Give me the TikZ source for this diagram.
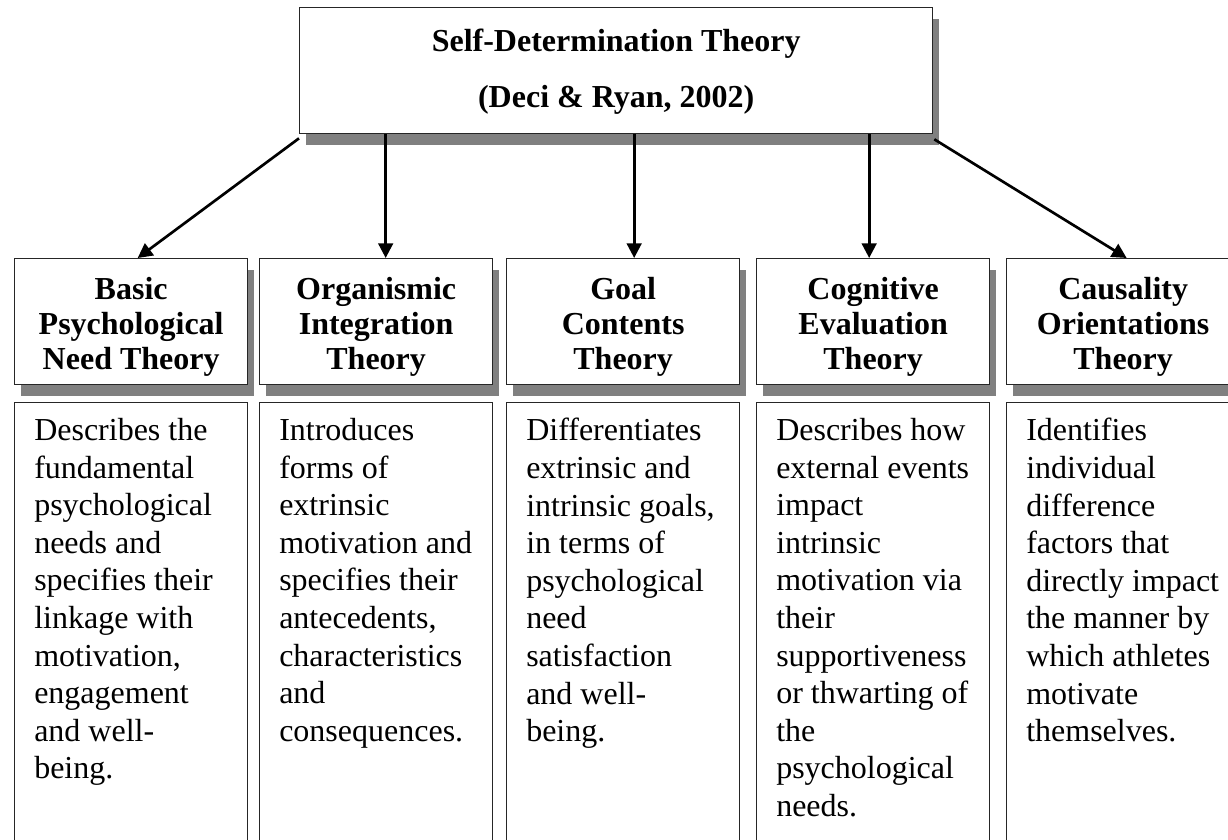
\documentclass[tikz,border=0pt]{standalone}
\usepackage{fontspec}
\setmainfont{Liberation Serif}
\usetikzlibrary{arrows.meta,shadows,calc}

\begin{document}
\begin{tikzpicture}[x=0.75pt, y=-0.75pt,
    titlebox/.style={draw=black!85, line width=1pt, fill=white, anchor=north west, inner sep=0pt,
        minimum width=474.75pt, minimum height=94.5pt,
        drop shadow={shadow xshift=4.5pt, shadow yshift=-8.25pt, fill=black!50, opacity=1}},
    headbox/.style={titlebox, minimum width=174.75pt},
    bodybox/.style={draw=black!85, line width=1pt, fill=white, anchor=north west, inner sep=0pt,
        minimum width=174.75pt, minimum height=345pt},
    headtext/.style={font=\bfseries\fontsize{24}{26}\selectfont, align=center, anchor=north, inner sep=0pt},
    bodytext/.style={font=\fontsize{24}{28.2}\selectfont, align=left, anchor=north west, inner sep=0pt},
    arr/.style={line width=2pt, -{Triangle[length=11pt, width=11pt]}}]
\clip (0,0) rectangle (1228,839);

% Top box
\node[titlebox] (sdt) at (299,7) {};
\node[headtext, font=\bfseries\fontsize{24}{42}\selectfont] (sdt-label) at ($(sdt.north)+(0,21.3)$)
    {Self-Determination Theory\\(Deci \& Ryan, 2002)};

% Mini-theories: heading box and description box
\foreach \n/\x/\t/\b in {
    bpnt/14/{Basic\\Psychological\\Need Theory}/{Describes the\\fundamental\\psychological\\needs and\\specifies their\\linkage with\\motivation,\\engagement\\and well-\\being.},
    oit/259/{Organismic\\Integration\\Theory}/{Introduces\\forms of\\extrinsic\\motivation and\\specifies their\\antecedents,\\characteristics\\and\\consequences.},
    gct/506/{Goal\\Contents\\Theory}/{Differentiates\\extrinsic and\\intrinsic goals,\\in terms of\\psychological\\need\\satisfaction\\and well-\\being.},
    cet/756/{Cognitive\\Evaluation\\Theory}/{Describes how\\external events\\impact\\intrinsic\\motivation via\\their\\supportiveness\\or thwarting of\\the\\psychological\\needs.},
    cot/1006/{Causality\\Orientations\\Theory}/{Identifies\\individual\\difference\\factors that\\directly impact\\the manner by\\which athletes\\motivate\\themselves.}}
{
    \node[headbox] (\n) at (\x,258) {};
    \node[headtext] (\n-label) at ($(\n.north)+(0,19.3)$) {\t};
    \node[bodybox] (\n-body) at (\x,402) {};
    \node[bodytext] (\n-text) at ($(\n-body.north west)+(20,16.1)$) {\b};
}

% Arrows
\coordinate (a2) at ($(oit.north)+(9.5,0)$);
\coordinate (a3) at ($(gct.north)+(11,0)$);
\coordinate (a4) at ($(cet.north)+(-4,0)$);
\draw[arr] ($(sdt.south west)+(0,4)$) -- ($(bpnt.north)+(6.5,0)$);
\draw[arr] (a2 |- sdt.south) -- (a2);
\draw[arr] (a3 |- sdt.south) -- (a3);
\draw[arr] (a4 |- sdt.south) -- (a4);
\draw[arr] ($(sdt.south east)+(1,5)$) -- ($(cot.north)+(3.5,0)$);
\end{tikzpicture}
\end{document}
